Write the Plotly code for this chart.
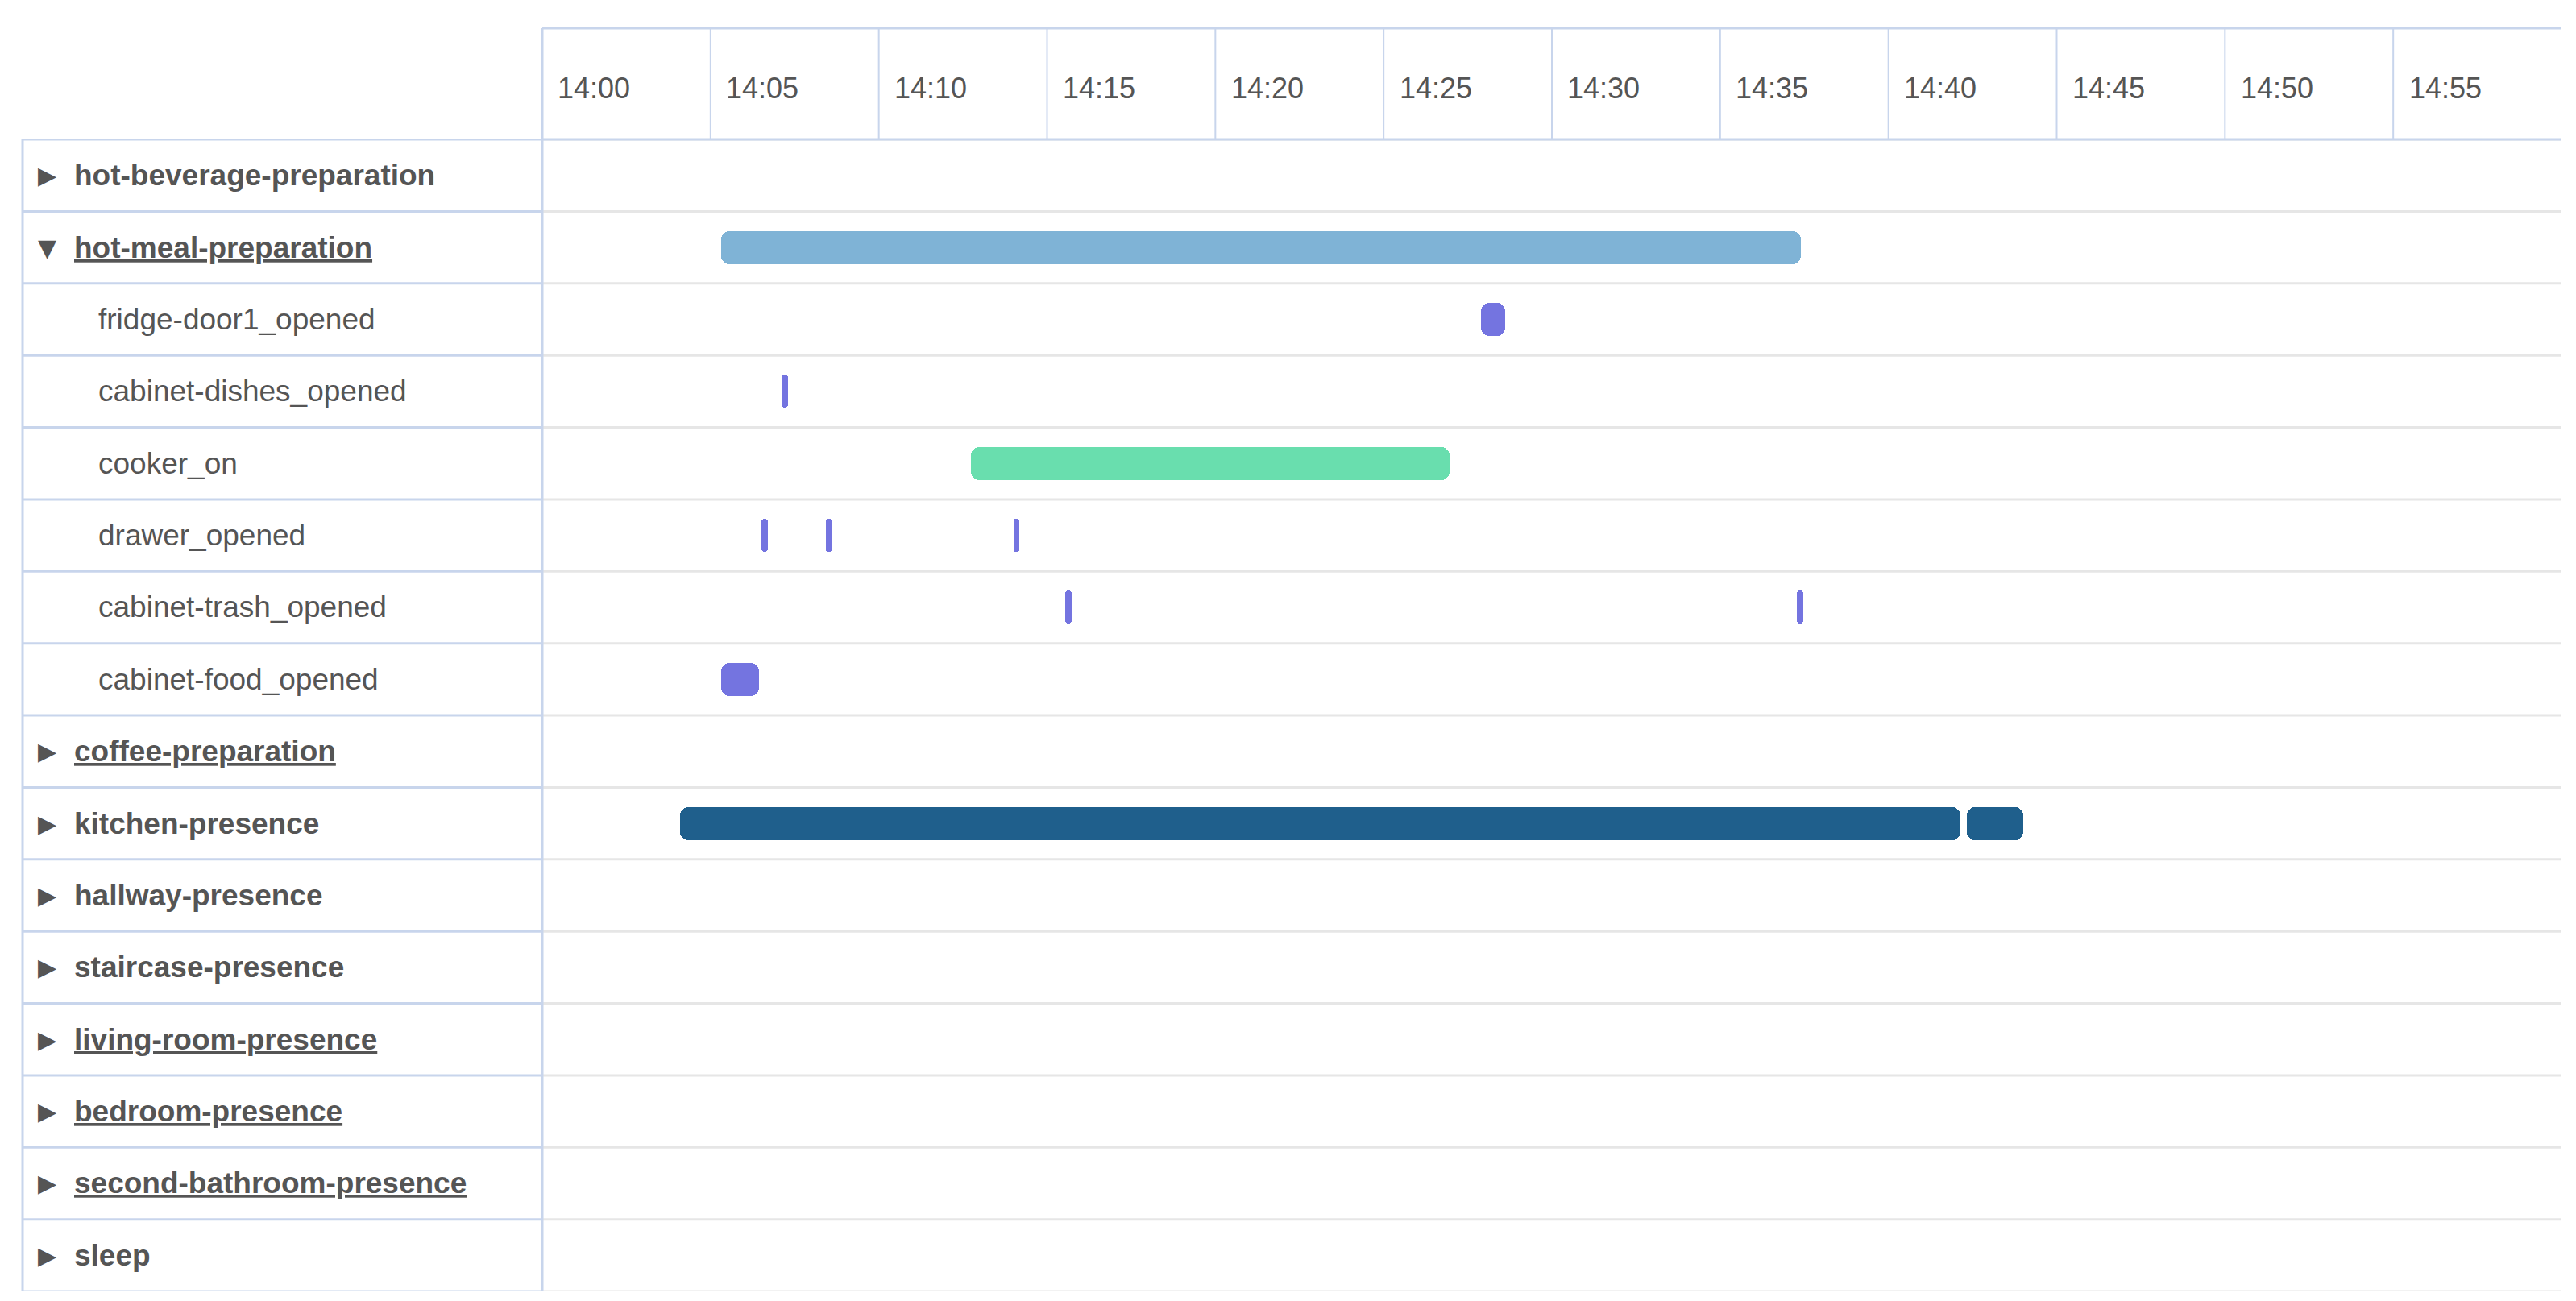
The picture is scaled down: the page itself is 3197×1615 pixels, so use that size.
import plotly.graph_objects as go
from datetime import datetime, timedelta

W, H = 3197, 1615
base = datetime(2020, 1, 1, 14, 0)

rows = ["hot-beverage-preparation", "hot-meal-preparation", "fridge-door1_opened",
        "cabinet-dishes_opened", "cooker_on", "drawer_opened", "cabinet-trash_opened",
        "cabinet-food_opened", "coffee-preparation", "kitchen-presence", "hallway-presence",
        "staircase-presence", "living-room-presence", "bedroom-presence",
        "second-bathroom-presence", "sleep"]
is_group = [True, True, False, False, False, False, False, False, True, True, True, True, True, True, True, True]
expanded = [False, True] + [False] * 14
underlined = ["hot-meal-preparation", "coffee-preparation", "living-room-presence",
              "bedroom-presence", "second-bathroom-presence"]

# intervals: (row, start minute after 14:00, end minute, colour key)
bar_rows = ["hot-meal-preparation", "fridge-door1_opened", "cabinet-dishes_opened", "cooker_on",
            "drawer_opened", "drawer_opened", "drawer_opened", "cabinet-trash_opened",
            "cabinet-trash_opened", "cabinet-food_opened", "kitchen-presence", "kitchen-presence"]
bar_start = [5.32, 27.9, 7.12, 12.74, 6.52, 8.42, 14.0, 15.55, 37.28, 5.32, 4.1, 42.33]
bar_end = [37.4, 28.6, 7.3, 26.95, 6.7, 8.6, 14.18, 15.73, 37.46, 6.45, 42.14, 44.0]
bar_color = ["#7fb3d6", "#7474e0", "#7474e0", "#69deae", "#7474e0", "#7474e0", "#7474e0",
             "#7474e0", "#7474e0", "#7474e0", "#1f5f8c", "#1f5f8c"]

tick_minutes = [0, 5, 10, 15, 20, 25, 30, 35, 40, 45, 50, 55]
tick_labels = ["14:00", "14:05", "14:10", "14:15", "14:20", "14:25", "14:30", "14:35",
               "14:40", "14:45", "14:50", "14:55"]

X0, X1 = 665 / W, 3171 / W
XL = 20 / W
Y0, Y1, YT = 1 - 1595 / H, 1 - 165 / H, 1 - 27 / H
BLUE = "#c8d5ec"
GREY = "#e6e6e6"

fig = go.Figure()
for r, s, e, c in zip(bar_rows, bar_start, bar_end, bar_color):
    thin = (e - s) < 0.5
    fig.add_trace(go.Bar(
        y=[rows.index(r)], base=[base + timedelta(minutes=s)],
        x=[(e - s) * 60000], orientation="h", width=0.46,
        marker=dict(color=c, line=dict(width=0), cornerradius=4 if thin else 10),
        showlegend=False, hoverinfo="skip"))

shapes = []
# horizontal row separators
for i in range(len(rows) + 1):
    yv = i - 0.5
    shapes.append(dict(type="line", xref="paper", yref="y", x0=XL, x1=X0, y0=yv, y1=yv,
                       line=dict(color=BLUE, width=3)))
    shapes.append(dict(type="line", xref="paper", yref="y", x0=X0, x1=X1, y0=yv, y1=yv,
                       line=dict(color=GREY, width=3)))
# label column borders
shapes.append(dict(type="line", xref="paper", yref="paper", x0=XL, x1=XL, y0=Y0, y1=Y1,
                   line=dict(color=BLUE, width=3)))
shapes.append(dict(type="line", xref="paper", yref="paper", x0=X0, x1=X0, y0=Y0, y1=YT,
                   line=dict(color=BLUE, width=3)))
# header
shapes.append(dict(type="line", xref="paper", yref="paper", x0=X0, x1=X1, y0=YT, y1=YT,
                   line=dict(color=BLUE, width=3)))
shapes.append(dict(type="line", xref="paper", yref="paper", x0=X0, x1=X1, y0=Y1, y1=Y1,
                   line=dict(color=BLUE, width=3)))
for m in tick_minutes[1:] + [60]:
    t = base + timedelta(minutes=m)
    shapes.append(dict(type="line", xref="x", yref="paper", x0=t, x1=t, y0=Y1, y1=YT,
                       line=dict(color=BLUE, width=2)))

annotations = []
for m, lab in zip(tick_minutes, tick_labels):
    annotations.append(dict(x=base + timedelta(minutes=m, seconds=25), y=1 - 102 / H,
                            xref="x", yref="paper", text=lab, showarrow=False,
                            xanchor="left", yanchor="middle",
                            font=dict(size=36, color="#555555", family="Liberation Sans")))
for i, (name, g) in enumerate(zip(rows, is_group)):
    if g:
        annotations.append(dict(x=37 / W, y=i, xref="paper", yref="y",
                                text="▼" if expanded[i] else "▶", showarrow=False,
                                xanchor="left", yanchor="middle",
                                font=dict(size=30, color="#555555", family="DejaVu Sans")))
        txt = f"<b>{name}</b>"
        if name in underlined:
            txt = f"<span style='text-decoration:underline'><b>{name}</b></span>"
        annotations.append(dict(x=82 / W, y=i, xref="paper", yref="y", text=txt,
                                showarrow=False, xanchor="left", yanchor="middle",
                                font=dict(size=37, color="#555555", family="Liberation Sans")))
    else:
        annotations.append(dict(x=112 / W, y=i, xref="paper", yref="y", text=name,
                                showarrow=False, xanchor="left", yanchor="middle",
                                font=dict(size=37, color="#555555", family="Liberation Sans")))

fig.update_layout(
    width=W, height=H, margin=dict(l=0, r=0, t=0, b=0),
    paper_bgcolor="white", plot_bgcolor="white", bargap=0, barmode="overlay",
    xaxis=dict(type="date", domain=[X0, X1], range=[base, base + timedelta(minutes=60)],
               showgrid=False, showticklabels=False, zeroline=False, ticks=""),
    yaxis=dict(domain=[Y0, Y1], range=[len(rows) - 0.5, -0.5], showgrid=False,
               showticklabels=False, zeroline=False),
    shapes=shapes, annotations=annotations,
)
fig.write_html("out.html")
